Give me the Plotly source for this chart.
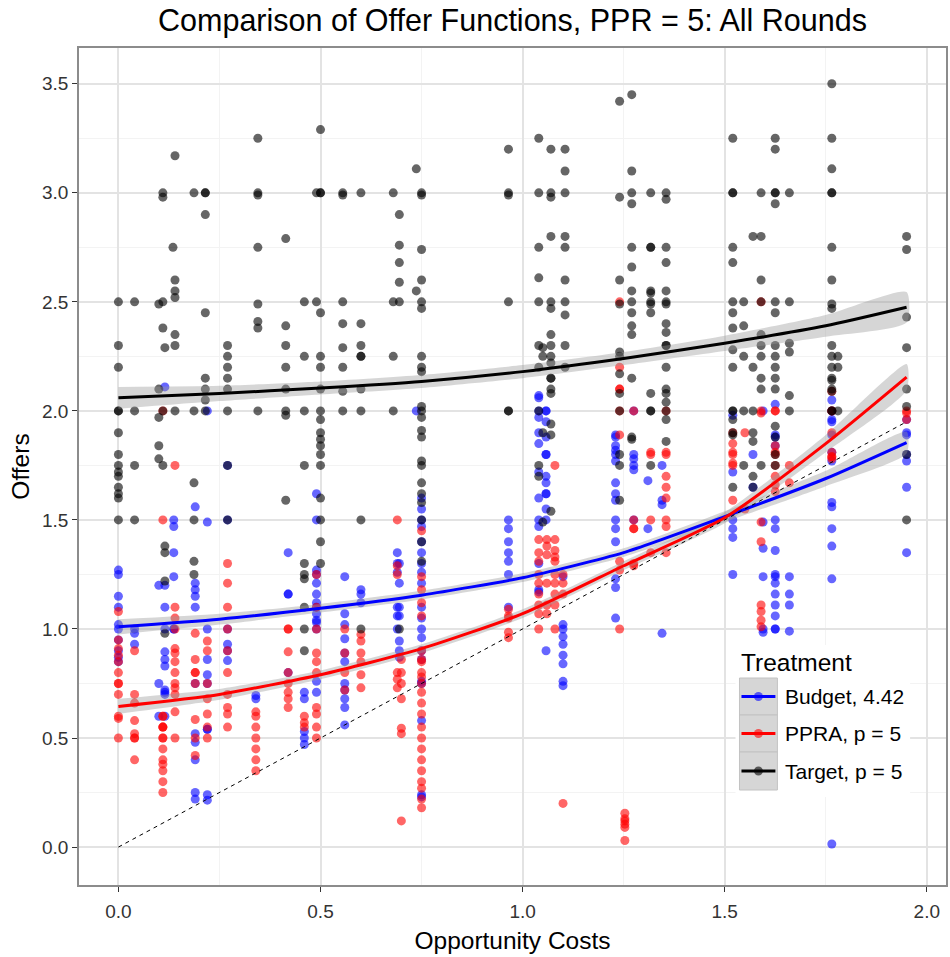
import plotly.graph_objects as go

# ---------------- data ----------------
treatments = ["Budget, 4.42", "PPRA, p = 5", "Target, p = 5"]
colors = ["#0000FF", "#FF0000", "#000000"]
colors_alpha = ["rgba(0,0,255,0.6)", "rgba(255,0,0,0.6)", "rgba(0,0,0,0.6)"]

# Budget: opportunity-cost columns and the offers observed at each
budget_cols = [0.0, 0.04, 0.10, 0.115, 0.137, 0.19, 0.22, 0.27, 0.34, 0.42, 0.46, 0.49, 0.56, 0.60,
               0.69, 0.695, 0.737, 0.75, 0.965, 1.04, 1.058, 1.10, 1.23, 1.275, 1.31, 1.345,
               1.52, 1.57, 1.595, 1.625, 1.66, 1.765, 1.95]
budget_offers = [
    [1.27, 1.25, 1.15, 1.1, 1.02, 1.0, 0.95, 0.9, 0.87, 0.85],
    [1.0, 0.98, 0.93],
    [1.2, 0.75, 0.6],
    [2.11, 1.2, 1.1, 1.0, 0.895, 0.86, 0.83, 0.72, 0.70, 0.60, 0.71],
    [1.5, 1.47, 1.35, 1.24, 1.0, 1.0],
    [1.56, 1.21, 1.18, 1.15, 1.1, 0.75, 0.52, 0.48, 0.4, 0.25, 0.22],
    [2.0, 1.49, 1.0, 0.86, 0.79, 0.75, 0.54, 0.54, 0.215, 0.24],
    [1.75, 1.5, 1.0, 0.93, 0.90, 0.855],
    [0.695, 0.68],
    [1.35, 1.16, 1.16, 0.80],
    [0.71, 0.68, 0.53, 0.50, 0.47],
    [1.5, 1.62, 1.27, 1.25, 1.21, 1.16, 1.12, 1.10, 1.07, 1.04, 1.03, 1.0, 0.76, 0.71],
    [1.24, 1.07, 1.02, 0.955, 0.89, 0.85, 0.75, 0.72, 0.68, 0.64, 0.56],
    [1.18, 1.16, 1.12],
    [1.35, 1.30, 1.26, 1.10, 1.06, 1.0],
    [1.30, 1.21, 1.10, 1.06, 0.945, 0.90, 0.87],
    [2.0],
    [1.6, 1.55, 1.5, 1.47, 1.40, 1.35, 1.30, 1.26, 1.21, 1.10, 1.05, 1.0, 0.96, 0.90, 0.86, 0.76, 0.75, 0.58, 0.24, 0.23],
    [1.50, 1.46, 1.40, 1.35, 1.31, 1.25, 1.10],
    [2.06, 2.0, 1.60, 1.50, 1.47, 1.30, 1.18, 1.17, 2.07, 1.97, 1.90, 1.85, 1.72],
    [2.0, 2.0, 1.80, 1.80, 1.70, 1.67, 1.62, 1.62, 1.50, 0.90, 1.95, 1.88, 1.55],
    [1.24, 1.02, 1.0, 0.965, 0.93, 0.88, 0.84, 0.76, 0.74],
    [1.89, 1.84, 1.80, 1.77, 1.67, 1.62, 1.59, 1.50, 1.46, 1.40, 1.23, 1.19, 1.05, 1.88, 1.82],
    [2.0, 1.80, 1.75, 1.73, 1.50, 1.78],
    [1.68, 1.46],
    [1.59, 1.75, 1.57, 0.98],
    [1.98, 1.72, 1.50, 1.46, 1.42, 1.25],
    [1.80, 1.65],
    [1.49, 1.37, 1.24, 1.0, 0.985, 2.0],
    [2.03, 1.89, 1.88, 1.84, 1.50, 1.46, 1.36, 1.24, 1.25, 1.21, 1.16, 1.11, 1.06, 1.0, 1.0],
    [1.24, 1.16, 1.11, 0.99],
    [2.05, 2.0, 1.96, 1.81, 1.77, 1.58, 1.56, 1.46, 1.38, 1.23, 0.014, 1.95, 1.89],
    [1.96, 1.90, 1.89, 1.80, 1.77, 1.65, 1.35],
]

ppra_cols = [0.0, 0.04, 0.11, 0.14, 0.19, 0.22, 0.27, 0.34, 0.42, 0.46, 0.49, 0.56, 0.60, 0.69, 0.70,
             0.75, 0.965, 1.04, 1.06, 1.08, 1.10, 1.24, 1.253, 1.275, 1.317, 1.355, 1.52, 1.55,
             1.59, 1.625, 1.66, 1.765, 1.95]
ppra_offers = [
    [1.08, 0.95, 0.91, 0.88, 0.85, 0.80, 0.75, 0.75, 0.70, 0.60, 0.59, 0.50],
    [0.90, 0.70, 0.66, 0.58, 0.52, 0.50, 0.50, 0.40],
    [2.0, 1.50, 0.60, 0.55, 0.55, 0.50, 0.50, 0.45, 0.40, 0.38, 0.35, 0.30, 0.25, 0.55, 0.60],
    [1.75, 1.10, 1.05, 1.0, 0.91, 0.89, 0.85, 0.80, 0.75, 0.73, 0.70, 0.62, 0.50],
    [0.98, 0.86, 0.80, 0.80, 0.75, 0.585, 0.50, 0.42],
    [0.945, 0.90, 0.75, 0.68, 0.61, 0.55, 0.50],
    [1.30, 1.21, 1.10, 1.0, 0.90, 0.80, 0.70, 0.64, 0.61, 0.55],
    [0.62, 0.60, 0.55, 0.50, 0.45, 0.40, 0.35],
    [1.0, 1.0, 0.895, 0.80, 0.75, 0.71, 0.68, 0.64],
    [0.60, 0.57, 0.55],
    [1.25, 1.10, 1.0, 0.89, 0.85, 0.80, 0.64, 0.61, 0.55, 0.50],
    [1.0, 0.89, 0.80, 0.72],
    [0.975, 0.945, 0.89, 0.85, 0.79, 0.73],
    [1.5, 1.29, 1.25, 0.80, 0.77, 0.73],
    [0.86, 0.80, 0.75, 0.68, 0.545, 0.52, 0.12],
    [1.45, 1.24, 1.18, 1.12, 1.06, 0.90, 0.86, 0.85, 0.80, 0.78, 0.75, 0.71, 0.66, 0.61, 0.55, 0.50,
     0.45, 0.40, 0.35, 0.30, 0.27, 0.22, 0.18],
    [1.09, 1.06, 1.05, 0.985, 0.96],
    [1.41, 1.35, 1.31, 1.25, 1.21, 1.16, 1.11, 1.07, 1.0],
    [1.41, 1.38, 1.34, 1.21, 1.11, 1.07],
    [1.75, 1.41, 1.36, 1.33, 1.31, 1.25, 1.21, 1.16, 1.11, 1.0],
    [1.25, 1.21, 1.16, 0.20],
    [2.5, 2.2, 2.1, 2.1, 2.0, 1.89, 1.31, 1.27, 1.0],
    [0.155, 0.13, 0.12, 0.105, 0.09, 0.03],
    [2.0, 1.50, 1.46, 1.46, 1.30, 1.29],
    [1.81, 1.80, 1.50, 1.35],
    [2.0, 1.81, 1.80, 1.70, 1.65, 1.60, 1.50, 1.47, 1.35],
    [1.90, 1.85, 1.81, 1.80, 1.76, 1.75, 1.59],
    [1.90, 1.55],
    [2.5, 1.99, 2.0, 1.49, 1.40, 1.11, 1.08, 1.04, 1.01],
    [2.0, 2.0, 1.84, 1.81, 1.80, 1.75, 1.70, 1.66, 1.63],
    [1.75, 1.67],
    [2.09, 2.0, 2.0, 1.90, 1.81, 1.79, 1.79, 1.78],
    [2.0, 1.99, 1.96],
]

target_cols = [0.0, 0.04, 0.10, 0.11, 0.115, 0.135, 0.14, 0.187, 0.215, 0.27, 0.345, 0.414, 0.46,
               0.49, 0.50, 0.555, 0.60, 0.68, 0.695, 0.737, 0.75, 0.965, 1.04, 1.05, 1.07, 1.105,
               1.24, 1.27, 1.317, 1.355, 1.52, 1.547, 1.57, 1.59, 1.625, 1.66, 1.765, 1.78, 1.95]
target_offers = [
    [2.5, 2.3, 2.2, 2.0, 2.0, 1.9, 1.8, 1.75, 1.72, 1.7, 1.65, 1.62, 1.6, 1.5],
    [2.5, 2.0, 1.75, 1.5],
    [2.49, 2.1, 1.97, 1.84, 1.78],
    [3.0, 2.98, 2.5, 2.38, 2.0, 1.75],
    [2.29, 1.38, 1.35, 1.22, 0.98],
    [2.75],
    [3.17, 2.6, 2.55, 2.52, 2.35, 2.3, 2.0],
    [3.0, 2.0, 1.67, 1.5, 1.31, 1.25],
    [3.0, 3.0, 2.9, 2.45, 2.15, 2.1, 2.05, 2.0],
    [2.3, 2.25, 2.2, 2.15, 2.1, 2.0, 1.75, 1.5],
    [3.25, 3.0, 2.99, 2.75, 2.49, 2.41, 2.38, 2.0],
    [2.79, 2.39, 2.3, 2.2, 2.1, 2.0, 1.98, 1.59],
    [2.5, 2.25, 2.0, 1.75, 1.3, 1.25, 1.23, 1.1, 1.0, 0.9],
    [3.0, 2.5],
    [3.29, 3.0, 3.0, 2.45, 2.25, 2.2, 2.1, 2.0, 1.96, 1.9, 1.87, 1.84, 1.8, 1.75, 1.6, 1.5, 1.4, 1.3],
    [3.0, 2.99, 2.5, 2.4, 2.29, 2.2, 2.09, 2.0],
    [3.0, 2.4, 2.3, 2.25, 2.25, 2.1, 2.0, 1.5, 1.0],
    [3.0, 2.5, 2.25, 2.0],
    [2.9, 2.76, 2.68, 2.59, 2.5, 1.0],
    [3.11, 2.55],
    [3.0, 2.99, 2.74, 2.6, 2.5, 2.47, 2.25, 2.2, 2.18, 2.02, 2.0, 1.97, 1.91, 1.88, 1.77, 1.75, 1.67,
     1.62, 1.58, 1.5, 1.4, 1.31],
    [3.2, 3.0, 2.99, 2.5, 2.0, 2.0],
    [3.25, 3.0, 2.75, 2.61, 2.5, 2.3, 2.2, 2.0, 1.75, 1.70],
    [2.29, 2.25, 1.9, 1.49],
    [3.2, 3.0, 2.98, 2.8, 2.5, 2.47, 2.35, 2.3, 2.25, 2.22, 2.15, 2.15, 2.1, 2.08, 1.94, 1.89, 1.54],
    [3.2, 3.1, 3.0, 2.8, 2.75, 2.6, 2.5, 2.44, 2.3, 2.2],
    [3.42, 2.98, 2.6, 2.49, 2.27, 2.25, 2.17, 2.08, 2.0, 1.8, 1.75, 1.59],
    [3.45, 3.1, 3.0, 2.95, 2.75, 2.66, 2.55, 2.5, 2.45, 2.39, 2.35, 2.15, 1.87, 1.88],
    [3.0, 2.75, 2.75, 2.55, 2.54, 2.5, 2.49, 2.45, 2.08, 2.0, 2.0, 1.75],
    [3.0, 2.97, 2.75, 2.68, 2.55, 2.5, 2.49, 2.4, 2.36, 2.3, 2.3, 2.2, 2.1, 2.08, 2.04, 2.0, 1.96, 1.86],
    [3.25, 3.0, 3.0, 2.75, 2.68, 2.5, 2.45, 2.38, 2.28, 2.2, 2.0, 2.0, 1.89, 1.9, 1.96, 1.65],
    [2.5, 2.39, 2.25, 2.0, 1.75],
    [2.8, 2.2, 1.9, 2.0, 1.86, 1.70, 1.65],
    [3.0, 2.8, 2.6, 2.5, 2.35, 2.3, 2.25, 2.15, 2.1, 1.75],
    [3.25, 3.2, 3.0, 3.0, 2.95, 2.5, 2.45, 2.3, 2.25, 2.2, 2.15, 2.1, 1.80, 1.75, 1.88, 1.93],
    [3.0, 2.5, 2.31, 2.27, 2.07, 2.0],
    [3.5, 3.25, 3.11, 3.0, 3.0, 2.75, 2.6, 2.49, 2.47, 2.3, 2.25, 2.2, 2.15, 2.1, 2.0, 2.0, 2.14, 2.09],
    [2.25, 2.2, 2.0],
    [2.8, 2.74, 2.43, 2.29, 2.1, 2.02, 1.8, 1.5],
]

# smoothed offer functions and CI half-widths
fit_x = [0.0, 0.25, 0.5, 0.75, 1.0, 1.25, 1.5, 1.75, 1.95]
budget_fit = [1.01, 1.045, 1.095, 1.155, 1.235, 1.35, 1.515, 1.69, 1.855]
budget_se = [0.035, 0.025, 0.02, 0.02, 0.02, 0.02, 0.025, 0.035, 0.05]
ppra_fit = [0.645, 0.70, 0.79, 0.91, 1.07, 1.29, 1.51, 1.85, 2.155]
ppra_se = [0.035, 0.025, 0.02, 0.02, 0.02, 0.02, 0.025, 0.04, 0.06]
target_fit = [2.06, 2.08, 2.105, 2.135, 2.18, 2.24, 2.31, 2.39, 2.475]
target_se = [0.05, 0.035, 0.03, 0.03, 0.03, 0.03, 0.035, 0.05, 0.07]

diag_x = [0.0, 1.95]

x_ticks = [0.0, 0.5, 1.0, 1.5, 2.0]
y_ticks = [0.0, 0.5, 1.0, 1.5, 2.0, 2.5, 3.0, 3.5]

# ---------------- figure ----------------
FONT = "Liberation Sans, Arial, sans-serif"
fig = go.Figure()

groups = [
    (budget_cols, budget_offers, budget_fit, budget_se),
    (ppra_cols, ppra_offers, ppra_fit, ppra_se),
    (target_cols, target_offers, target_fit, target_se),
]

for (cols, offers, fit, se), col, name in zip(groups, colors, treatments):
    xs, ys = [], []
    for cx, yl in zip(cols, offers):
        for yv in yl:
            xs.append(cx)
            ys.append(yv)
    fig.add_trace(go.Scatter(x=xs, y=ys, mode="markers", name=name, showlegend=False,
                             marker=dict(color=col, size=9, opacity=0.6, line=dict(width=0))))

for (cols, offers, fit, se), col in zip(groups, colors):
    up = [f + s for f, s in zip(fit, se)]
    lo = [f - s for f, s in zip(fit, se)]
    fig.add_trace(go.Scatter(x=fit_x + fit_x[::-1], y=up + lo[::-1], mode="lines", fill="toself",
                             fillcolor="rgba(153,153,153,0.4)",
                             line=dict(width=0, shape="spline", smoothing=0.6),
                             showlegend=False, hoverinfo="skip"))

for (cols, offers, fit, se), col in zip(groups, colors):
    fig.add_trace(go.Scatter(x=fit_x, y=fit, mode="lines", showlegend=False, hoverinfo="skip",
                             line=dict(color=col, width=3, shape="spline", smoothing=0.6)))

fig.add_trace(go.Scatter(x=diag_x, y=diag_x, mode="lines", showlegend=False, hoverinfo="skip",
                         line=dict(color="black", width=1, dash="4px,4px")))


# ---------------- legend (drawn as in ggplot: grey keys with line + point) ----------------
def px2paper_x(p):
    return (p - 79) / 869.0


def px2paper_y(p):
    return (885 - p) / 837.0


shapes = [dict(type="rect", xref="paper", yref="paper", layer="above",
               x0=px2paper_x(737), x1=px2paper_x(912), y0=px2paper_y(797), y1=px2paper_y(645),
               fillcolor="white", line=dict(width=0))]
annotations = [dict(text="Treatment", xref="paper", yref="paper", x=px2paper_x(741),
                    y=px2paper_y(662), xanchor="left", yanchor="middle", showarrow=False,
                    font=dict(size=24.5, color="black", family=FONT))]
key_rows = [(678, 715), (715, 752), (752, 790)]
for (top, bot), col, cola, name in zip(key_rows, colors, colors_alpha, treatments):
    mid = (top + bot) / 2.0
    shapes.append(dict(type="rect", xref="paper", yref="paper", layer="above",
                       x0=px2paper_x(741), x1=px2paper_x(779), y0=px2paper_y(bot), y1=px2paper_y(top),
                       fillcolor="#D6D6D6", line=dict(color="#C2C2C2", width=1)))
    shapes.append(dict(type="line", xref="paper", yref="paper", layer="above",
                       x0=px2paper_x(743), x1=px2paper_x(777), y0=px2paper_y(mid), y1=px2paper_y(mid),
                       line=dict(color=col, width=3)))
    shapes.append(dict(type="circle", xref="paper", yref="paper", layer="above",
                       x0=px2paper_x(755.5), x1=px2paper_x(764.5),
                       y0=px2paper_y(mid + 4.5), y1=px2paper_y(mid - 4.5),
                       fillcolor=cola, line=dict(width=0)))
    annotations.append(dict(text=name, xref="paper", yref="paper", x=px2paper_x(785),
                            y=px2paper_y(mid), xanchor="left", yanchor="middle", showarrow=False,
                            font=dict(size=21, color="black", family=FONT)))

fig.update_layout(
    width=950, height=957,
    margin=dict(l=79, r=2, t=48, b=72),
    paper_bgcolor="white", plot_bgcolor="white",
    font=dict(family=FONT, color="black"),
    showlegend=False,
    title=dict(text="Comparison of Offer Functions, PPR = 5: All Rounds", x=0.5, xref="paper",
               xanchor="center", y=1 - 20 / 957, yref="container", yanchor="middle",
               font=dict(size=30.5, color="black", family=FONT)),
    shapes=shapes,
    annotations=annotations,
)

fig.update_xaxes(
    range=[-0.0975, 2.0475], tickvals=x_ticks, ticktext=["%.1f" % v for v in x_ticks],
    ticks="outside", ticklen=5, tickcolor="#333333", tickwidth=1, ticklabelstandoff=3,
    tickfont=dict(size=19, color="#333333"),
    showgrid=True, gridcolor="#E3E3E3", gridwidth=1.5,
    minor=dict(dtick=0.25, tick0=0, showgrid=True, gridcolor="#F3F3F3", gridwidth=1),
    showline=True, linecolor="#8C8C8C", linewidth=1.5, mirror=True, zeroline=False,
    title=dict(text="Opportunity Costs", font=dict(size=24.5, color="black"), standoff=11),
)
fig.update_yaxes(
    range=[-0.174, 3.664], tickvals=y_ticks, ticktext=["%.1f" % v for v in y_ticks],
    ticks="outside", ticklen=5, tickcolor="#333333", tickwidth=1,
    tickfont=dict(size=19, color="#333333"),
    showgrid=True, gridcolor="#E3E3E3", gridwidth=1.5,
    minor=dict(dtick=0.25, tick0=0, showgrid=True, gridcolor="#F3F3F3", gridwidth=1),
    showline=True, linecolor="#8C8C8C", linewidth=1.5, mirror=True, zeroline=False,
    title=dict(text="Offers", font=dict(size=24.5, color="black"), standoff=5),
)

fig.write_html("out.html")
